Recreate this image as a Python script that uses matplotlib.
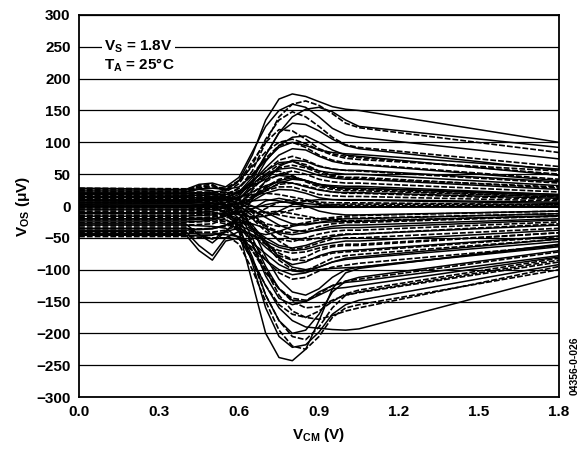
#offset voltage vs common-mode voltage, many parts overlaid

import matplotlib as mpl
mpl.use('Agg')
import matplotlib.pyplot as plt

mpl.rcParams['font.family'] = 'Liberation Sans'
mpl.rcParams['font.weight'] = 'bold'
mpl.rcParams['mathtext.fontset'] = 'custom'
mpl.rcParams['mathtext.rm'] = 'Liberation Sans:bold'
mpl.rcParams['mathtext.bf'] = 'Liberation Sans:bold'
mpl.rcParams['mathtext.it'] = 'Liberation Sans:bold'

# common-mode voltage sample points (V)
vcm = [0.0, 0.4, 0.45, 0.5, 0.55, 0.6, 0.65, 0.7, 0.75, 0.8, 0.85, 0.9, 0.95, 1.0, 1.05, 1.8]

# offset voltage per unit (uV)
vos_solid = [
    [20, 19, 20, 22, 24, 40, 80, 135, 168, 176, 172, 164, 156, 152, 150, 100],
    [28, 26, 34, 36, 30, 45, 85, 125, 150, 160, 155, 140, 122, 112, 108, 74],
    [8, 7, 8, 9, 12, 22, 45, 80, 115, 140, 152, 155, 148, 135, 125, 92],
    [0, -2, -1, 0, 5, 15, 40, 80, 115, 130, 128, 118, 105, 95, 90, 56],
    [-10, -11, -10, -8, -2, 10, 35, 70, 95, 108, 110, 100, 88, 80, 78, 48],
    [5, 4, 5, 6, 10, 18, 38, 60, 80, 90, 88, 78, 70, 66, 65, 40],
    [10, 9, 10, 12, 14, 22, 40, 55, 68, 70, 62, 55, 52, 50, 50, 32],
    [2, 1, 2, 3, 6, 12, 28, 45, 58, 60, 55, 48, 44, 42, 42, 26],
    [18, 17, 17, 18, 18, 22, 32, 42, 48, 46, 40, 34, 32, 31, 31, 18],
    [8, 8, 8, 9, 10, 14, 22, 32, 38, 36, 30, 25, 22, 21, 21, 12],
    [-25, -25, -24, -22, -15, -5, 8, 20, 26, 25, 20, 13, 10, 9, 9, 4],
    [-3, -3, -3, -2, 0, 3, 8, 10, 8, 4, 0, -2, -2, -2, -2, -1],
    [20, 20, 21, 20, 15, 8, 0, -10, -20, -28, -30, -26, -22, -20, -20, -12],
    [-35, -35, -37, -36, -30, -25, -28, -35, -42, -45, -42, -36, -32, -30, -30, -20],
    [-12, -12, -11, -11, -12, -20, -35, -50, -62, -66, -62, -55, -48, -45, -44, -30],
    [-40, -40, -62, -78, -50, -40, -45, -55, -65, -70, -68, -62, -58, -55, -55, -38],
    [-28, -28, -45, -58, -40, -35, -45, -65, -82, -92, -88, -78, -72, -70, -69, -47],
    [-45, -45, -70, -85, -55, -50, -65, -85, -100, -108, -105, -96, -88, -84, -82, -56],
    [22, 22, 26, 24, 15, 0, -35, -80, -115, -135, -140, -130, -112, -100, -96, -62],
    [10, 10, 11, 10, 0, -20, -60, -110, -145, -155, -150, -135, -125, -120, -118, -78],
    [0, 0, 1, 0, -10, -35, -80, -140, -180, -200, -195, -170, -135, -118, -112, -70],
    [5, 5, 6, 4, -5, -30, -90, -160, -205, -222, -218, -198, -170, -155, -148, -92],
    [15, 15, 17, 15, 2, -40, -120, -200, -238, -243, -225, -180, -130, -105, -98, -60],
    [-30, -30, -31, -32, -35, -50, -85, -125, -160, -180, -190, -192, -194, -195, -193, -110],
    [20, 20, 21, 20, 10, -10, -50, -95, -130, -148, -150, -140, -130, -128, -125, -80],
    [-38, -38, -37, -35, -30, -20, -5, 8, 12, 8, 0, -8, -12, -14, -14, -8],
    [-20, -20, -19, -19, -22, -30, -40, -45, -40, -32, -28, -26, -25, -24, -24, -15],
    [-46, -46, -47, -46, -40, -20, 10, 40, 62, 72, 70, 62, 58, 56, 56, 38],
    [-6, -6, -6, -5, -8, -14, -18, -16, -8, 2, 8, 10, 10, 10, 10, 6],
    [3, 3, 3, 4, 2, 4, 12, 24, 36, 42, 40, 34, 30, 28, 28, 18],
    [-16, -16, -15, -14, -10, -2, 12, 28, 40, 44, 40, 34, 30, 28, 28, 16],
    [13, 13, 13, 13, 10, 4, -6, -18, -30, -38, -40, -38, -35, -34, -34, -22],
    [-43, -43, -44, -44, -45, -48, -58, -75, -92, -102, -104, -100, -98, -97, -96, -64],
    [25, 25, 27, 28, 26, 30, 48, 72, 92, 100, 95, 88, 84, 82, 81, 58],
    [-1, -1, 0, 0, -4, -12, -30, -55, -80, -96, -100, -96, -88, -82, -80, -52],
    [-22, -22, -21, -20, -16, -10, -4, 2, 6, 6, 4, 2, 0, -1, -1, -2],
]

vos_dashed = [
    [12, 11, 12, 13, 16, 28, 55, 100, 140, 160, 165, 158, 145, 130, 123, 84],
    [18, 17, 18, 20, 22, 35, 65, 105, 135, 148, 140, 125, 108, 96, 92, 62],
    [24, 22, 30, 32, 26, 38, 70, 100, 120, 118, 105, 90, 82, 78, 76, 50],
    [15, 14, 14, 15, 18, 28, 50, 75, 95, 100, 92, 80, 72, 68, 66, 42],
    [-5, -6, -5, -4, 0, 10, 30, 55, 72, 78, 72, 63, 58, 56, 55, 36],
    [-20, -21, -20, -18, -10, 2, 25, 50, 65, 70, 65, 55, 48, 45, 45, 28],
    [-15, -15, -14, -12, -6, 5, 20, 38, 50, 55, 50, 42, 38, 36, 36, 22],
    [-30, -30, -29, -28, -20, -5, 15, 30, 42, 46, 40, 32, 28, 26, 26, 14],
    [-8, -8, -7, -6, -2, 5, 15, 24, 30, 30, 24, 18, 16, 15, 15, 8],
    [12, 12, 12, 12, 12, 14, 18, 20, 18, 14, 10, 6, 5, 5, 5, 2],
    [-18, -18, -18, -17, -14, -10, -8, -10, -14, -18, -20, -20, -18, -16, -15, -8],
    [0, 0, 1, 1, -2, -10, -20, -32, -40, -42, -38, -32, -28, -26, -26, -16],
    [10, 10, 11, 11, 5, -5, -20, -40, -52, -56, -50, -44, -40, -38, -38, -25],
    [26, 25, 32, 34, 22, 10, -10, -35, -55, -68, -65, -58, -52, -50, -50, -35],
    [5, 5, 6, 5, 0, -12, -35, -60, -78, -85, -80, -70, -64, -62, -62, -42],
    [15, 15, 16, 15, 10, -5, -30, -60, -85, -100, -102, -92, -82, -78, -76, -52],
    [-5, -5, -4, -4, -10, -25, -55, -85, -105, -115, -112, -102, -96, -93, -90, -62],
    [-22, -22, -21, -21, -25, -40, -70, -105, -130, -145, -148, -138, -125, -118, -115, -72],
    [-33, -33, -45, -52, -40, -50, -85, -125, -155, -170, -175, -165, -150, -138, -132, -82],
    [-15, -15, -14, -14, -20, -40, -85, -140, -180, -205, -210, -190, -160, -140, -135, -85],
    [-40, -40, -41, -42, -45, -60, -100, -150, -195, -220, -225, -205, -175, -160, -155, -100],
    [-10, -10, -9, -9, -15, -30, -60, -100, -140, -165, -175, -178, -172, -165, -160, -95],
    [-48, -48, -49, -50, -50, -52, -70, -100, -130, -150, -160, -158, -148, -140, -136, -88],
    [14, 14, 14, 14, 14, 20, 35, 50, 55, 48, 38, 30, 26, 24, 24, 14],
    [6, 6, 6, 7, 4, -2, -10, -15, -12, -6, -2, 0, 2, 3, 3, 2],
    [28, 27, 29, 30, 28, 40, 62, 85, 100, 105, 98, 88, 80, 75, 73, 55],
    [17, 17, 17, 18, 12, 0, -15, -28, -32, -30, -26, -22, -20, -19, -19, -12],
    [-26, -26, -25, -24, -28, -36, -48, -60, -70, -74, -72, -66, -62, -60, -60, -42],
    [-36, -36, -36, -35, -32, -26, -16, -4, 6, 10, 8, 4, 2, 1, 1, 0],
    [-2, -2, -2, -1, -3, -8, -18, -30, -44, -52, -54, -50, -46, -44, -44, -28],
    [22, 22, 22, 22, 20, 24, 34, 48, 60, 64, 60, 52, 46, 44, 43, 30],
    [-12, -12, -12, -11, -14, -22, -38, -58, -74, -84, -86, -80, -74, -72, -71, -48],
    [9, 9, 9, 10, 9, 10, 16, 26, 34, 36, 32, 26, 22, 20, 20, 10],
    [-42, -42, -42, -41, -38, -30, -18, -10, -8, -12, -16, -20, -22, -23, -23, -16],
]

xticks = [0.0, 0.3, 0.6, 0.9, 1.2, 1.5, 1.8]
yticks = list(range(-300, 301, 50))

fig = plt.figure(figsize=(5.87, 4.49), dpi=100)
ax = fig.add_axes([0.1346, 0.1158, 0.8177, 0.8508])

for y in yticks:
    ax.axhline(y, color='black', lw=0.9, zorder=1)

for row in vos_solid:
    ax.plot(vcm, row, color='black', lw=1.1, zorder=2, solid_joinstyle='round')
for row in vos_dashed:
    ax.plot(vcm, row, color='black', lw=1.2, ls=(0, (3.5, 1.2)), zorder=2)

ax.set_xlim(0, 1.8)
ax.set_ylim(-300, 300)
ax.set_xticks(xticks)
ax.set_xticklabels(['%.1f' % t for t in xticks])
ax.set_yticks(yticks)
ax.set_yticklabels([str(t).replace('-', '\u2212') for t in yticks])
ax.tick_params(length=0, labelsize=11, pad=6)
for s in ax.spines.values():
    s.set_linewidth(1.3)

ax.set_xlabel(r'V$_{\mathrm{CM}}$ (V)', fontsize=11, fontweight='bold', labelpad=5)
ax.set_ylabel(r'V$_{\mathrm{OS}}$ ($\mu$V)', fontsize=11, fontweight='bold', labelpad=3)

ax.text(0.095, 250, r'V$_{\mathrm{S}}$ = 1.8V', fontsize=11, fontweight='bold',
        va='center', ha='left', zorder=5,
        bbox=dict(facecolor='white', edgecolor='none', pad=1.5))
ax.text(0.095, 221, r'T$_{\mathrm{A}}$ = 25°C', fontsize=11, fontweight='bold',
        va='center', ha='left', zorder=5)

fig.text(0.979, 0.185, '04356-0-026', rotation=90, fontsize=7.5,
         fontweight='bold', ha='center', va='center')

plt.savefig('out.png', dpi=100)
